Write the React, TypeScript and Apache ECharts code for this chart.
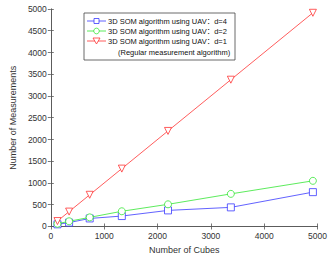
import React, { useEffect, useRef } from "react";
import * as echarts from "echarts";

const cubes = [125, 343, 729, 1331, 2197, 3375, 4913];
const d4 = [50, 90, 185, 240, 370, 440, 790];
const d2 = [63, 120, 210, 350, 510, 750, 1050];
const d1 = [125, 343, 729, 1331, 2197, 3375, 4913];
const legendNames = [
  "3D SOM algorithm using UAV：d=4",
  "3D SOM algorithm using UAV：d=2",
  "3D SOM algorithm using UAV：d=1",
];
const legendNote = "(Regular measurement algorithm)";
const colors = ["#3a3aff", "#33e633", "#ff3333"];

export default function App() {
  const ref = useRef<HTMLDivElement>(null);
  useEffect(() => {
    const chart = echarts.init(ref.current!, null, { renderer: "svg" });
    const font = "Arial, 'Liberation Sans', 'Noto Sans CJK SC', sans-serif";
    const axisCommon = {
      type: "value",
      min: 0,
      max: 5000,
      axisLine: { show: true, lineStyle: { color: "#555", width: 0.8 } },
      axisTick: { show: true, inside: true, length: 3, lineStyle: { color: "#555", width: 0.8 } },
      splitLine: { show: false },
    };
    const mk = (i: number, data: number[], symbol: string, rotate = 0) => ({
      type: "line",
      name: legendNames[i],
      data: cubes.map((c, k) => [c, data[k]]),
      symbol,
      symbolRotate: rotate,
      symbolSize: 7,
      showAllSymbol: true,
      lineStyle: { color: colors[i], width: 0.8 },
      itemStyle: { color: "#fff", borderColor: colors[i], borderWidth: 0.8 },
      z: 2 + i,
    });
    const lx = 84, ly = 13, lw = 151, lh = 47;
    const rows = [21, 31, 41];
    const graphic: any[] = [
      { type: "rect", shape: { x: lx, y: ly, width: lw, height: lh }, style: { fill: "#fff", stroke: "#444", lineWidth: 0.8 }, z: 10 },
    ];
    rows.forEach((y, i) => {
      graphic.push({ type: "line", shape: { x1: 87, y1: y, x2: 106, y2: y }, style: { stroke: colors[i], lineWidth: 0.8 }, z: 11 });
      if (i === 0) graphic.push({ type: "rect", shape: { x: 94, y: y - 2.5, width: 5, height: 5 }, style: { fill: "#fff", stroke: colors[i], lineWidth: 0.8 }, z: 12 });
      if (i === 1) graphic.push({ type: "circle", shape: { cx: 96.5, cy: y, r: 2.8 }, style: { fill: "#fff", stroke: colors[i], lineWidth: 0.8 }, z: 12 });
      if (i === 2) graphic.push({ type: "polygon", shape: { points: [[93, y - 3], [100, y - 3], [96.5, y + 3]] }, style: { fill: "#fff", stroke: colors[i], lineWidth: 0.8 }, z: 12 });
      graphic.push({ type: "text", x: 108, y, style: { text: legendNames[i], font: `7.5px ${font}`, fill: "#111", verticalAlign: "middle", align: "left" }, z: 12 });
    });
    graphic.push({ type: "text", x: 118, y: 52, style: { text: legendNote, font: `7.5px ${font}`, fill: "#111", verticalAlign: "middle", align: "left" }, z: 12 });

    const fmt = (v: number) => String(v);
    chart.setOption({
      animation: false,
      backgroundColor: "#fff",
      textStyle: { fontFamily: font },
      grid: { left: 39, right: 11, top: 9, bottom: 30, containLabel: false },
      xAxis: [
        {
          ...axisCommon,
          interval: 1000,
          position: "bottom",
          axisLabel: { color: "#333", fontSize: 8.5, margin: 5, formatter: fmt },
          name: "Number of Cubes",
          nameLocation: "middle",
          nameGap: 18.5,
          nameTextStyle: { color: "#333", fontSize: 9 },
        },
        { ...axisCommon, interval: 1000, position: "top", axisLabel: { show: false } },
      ],
      yAxis: [
        {
          ...axisCommon,
          interval: 500,
          position: "left",
          axisLabel: { color: "#333", fontSize: 8.5, margin: 4, formatter: fmt },
          name: "Number of Measurements",
          nameLocation: "middle",
          nameGap: 29,
          nameTextStyle: { color: "#333", fontSize: 9 },
        },
        { ...axisCommon, interval: 500, position: "right", axisLabel: { show: false } },
      ],
      series: [mk(0, d4, "rect"), mk(1, d2, "circle"), mk(2, d1, "triangle", 180)],
      graphic,
    });
    return () => chart.dispose();
  }, []);
  return <div ref={ref} style={{ position: "fixed", left: 0, top: 0, width: 330, height: 259 }} />;
}
